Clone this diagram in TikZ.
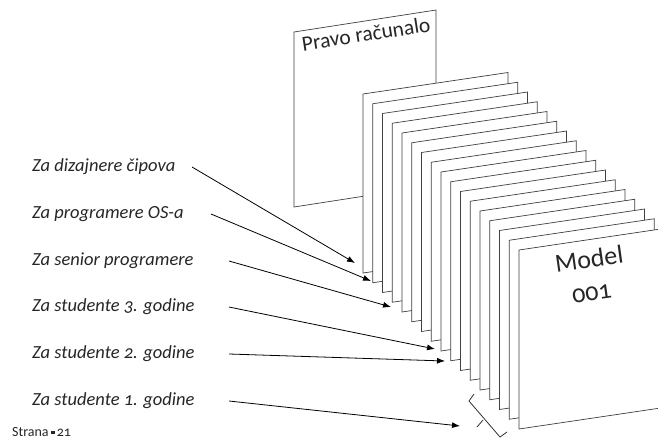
\documentclass[tikz,border=0pt]{standalone}
\usepackage{fontspec}
\setmainfont{Carlito}[Numbers=OldStyle]
\usetikzlibrary{arrows.meta}
\begin{document}
\begin{tikzpicture}[x=1pt,y=-1pt,
  panel/.style={draw=black!75,line width=0.7pt,fill=white,line join=miter},
  lbl/.style={anchor=west,inner sep=0pt,font=\fontsize{18.5}{20}\selectfont\itshape,text=black!85},
  arr/.style={-{Latex[length=8pt,width=6pt]},line width=0.8pt},
  bracestyle/.style={draw=black!80,line width=0.8pt}]
\useasboundingbox (0,0) rectangle (658,440);
\clip (0,0) rectangle (658,440);
% real computer
\draw[panel] (294,32) -- ++(142,-22) -- ++(0,175) -- ++(-142,22) -- cycle;
\node[rotate=8.8,inner sep=0pt,font=\fontsize{21.5}{24}\selectfont,text=black!85] (pravo) at (366,34) {Pravo računalo};
% stacked virtual machines
\foreach \i in {0,...,16}{
  \pgfmathsetmacro{\px}{363+9.75*\i}
  \pgfmathsetmacro{\py}{94+9.75*\i}
  \draw[panel] (\px,\py) -- ++(145,-21.5) -- ++(0,179) -- ++(-145,21.5) -- cycle;
}
\node[rotate=8,inner sep=0pt,font=\fontsize{26}{30}\selectfont,text=black!85] (model) at (589,259) {Model};
\node[rotate=8,inner sep=0pt,font=\fontsize{26}{30}\selectfont,text=black!85] (num) at (592,294) {001};
% labels
\node[lbl] (l1) at (32,167) {Za dizajnere čipova};
\node[lbl] (l2) at (32,214) {Za programere OS-a};
\node[lbl] (l3) at (32,261) {Za senior programere};
\node[lbl] (l4) at (32,307) {Za studente 3. godine};
\node[lbl] (l5) at (32,354) {Za studente 2. godine};
\node[lbl] (l6) at (32,401) {Za studente 1. godine};
\coordinate (t1) at (355,263);
\coordinate (t2) at (371,281);
\coordinate (t3) at (391,307);
\coordinate (t4) at (435,349);
\coordinate (t5) at (445,361);
\coordinate (t6) at (460,426);
\coordinate (s1) at (192,167);
\coordinate (s2) at (211,214);
\coordinate (s3) at (229,261);
\coordinate (s4) at (229,307);
\coordinate (s5) at (229,354);
\coordinate (s6) at (229,401);
\foreach \k in {1,...,6}{\draw[arr] (s\k) -- (t\k);}
% brace
\draw[bracestyle] (474,394) -- (469,401) -- (500,437) -- (507,432);
\draw[bracestyle] (483,420) -- (477,427);
% footer
\node[anchor=west,inner sep=0pt,font=\fontsize{14}{16}\selectfont,text=black!85] (foot) at (12,432) {Strana\,\raisebox{0.3ex}{\rule{3.5pt}{3.5pt}}\,21};
\end{tikzpicture}
\end{document}
